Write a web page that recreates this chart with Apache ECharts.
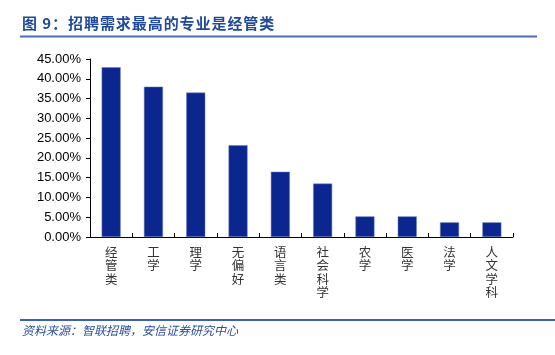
<!DOCTYPE html>
<html><head><meta charset="utf-8">
<script src="https://cdn.jsdelivr.net/npm/echarts@6/dist/echarts.min.js"></script>
<style>html,body{margin:0;padding:0;background:#fff}#c{width:555px;height:355px}</style>
</head><body><div id="c"></div>
<script>
var categories = ['经管类','工学','理学','无偏好','语言类','社会科学','农学','医学','法学','人文学科'];
var values = [42.9, 38.0, 36.5, 23.2, 16.5, 13.5, 5.2, 5.2, 3.7, 3.7];
var titleText = '图 9：招聘需求最高的专业是经管类';
var sourceText = '资料来源：智联招聘，安信证券研究中心';

var chart = echarts.init(document.getElementById('c'), null, {renderer:'canvas'});
chart.setOption({
  animation: false,
  backgroundColor: '#fff',
  grid: {left: 90, right: 42, top: 59, bottom: 118},
  xAxis: {
    type: 'category', data: categories,
    axisLine: {lineStyle: {color: '#000', width: 1}},
    axisTick: {show: true, inside: true, length: 4, alignWithLabel: false, lineStyle: {color: '#000'}},
    axisLabel: {
      interval: 0, margin: 8, color: '#333',
      fontFamily: 'Noto Sans CJK SC', fontSize: 12.5, lineHeight: 13.5,
      verticalAlign: 'top',
      formatter: function (v) { return v.split('').join('\n'); }
    }
  },
  yAxis: {
    type: 'value', min: 0, max: 45, interval: 5,
    axisLine: {show: true, lineStyle: {color: '#000', width: 1}},
    axisTick: {show: true, length: 4, lineStyle: {color: '#000'}},
    splitLine: {show: false},
    axisLabel: {
      color: '#000', fontFamily: 'Liberation Sans', fontSize: 13, margin: 9,
      formatter: function (v) { return v.toFixed(2) + '%'; }
    }
  },
  series: [{
    type: 'bar', data: values, barWidth: 19,
    itemStyle: {color: '#0C2690', borderColor: '#6A7FC0', borderWidth: 0.5}
  }],
  graphic: [
    {type: 'text', left: 22, top: 16, style: {text: titleText.split('').join('\u200A'), fill: '#1F4A9A', font: 'bold 15px "Noto Sans CJK SC"'}},
    {type: 'line', shape: {x1: 20, y1: 36.5, x2: 537, y2: 36.5}, style: {stroke: '#4A6DB3', lineWidth: 2}},
    {type: 'line', shape: {x1: 20, y1: 320, x2: 555, y2: 320}, style: {stroke: '#3A62AE', lineWidth: 2}},
    {type: 'text', left: 22, top: 324, style: {text: sourceText, fill: '#2C4E9E', font: 'italic 12px "Noto Sans CJK SC"'}}
  ]
});
</script></body></html>
